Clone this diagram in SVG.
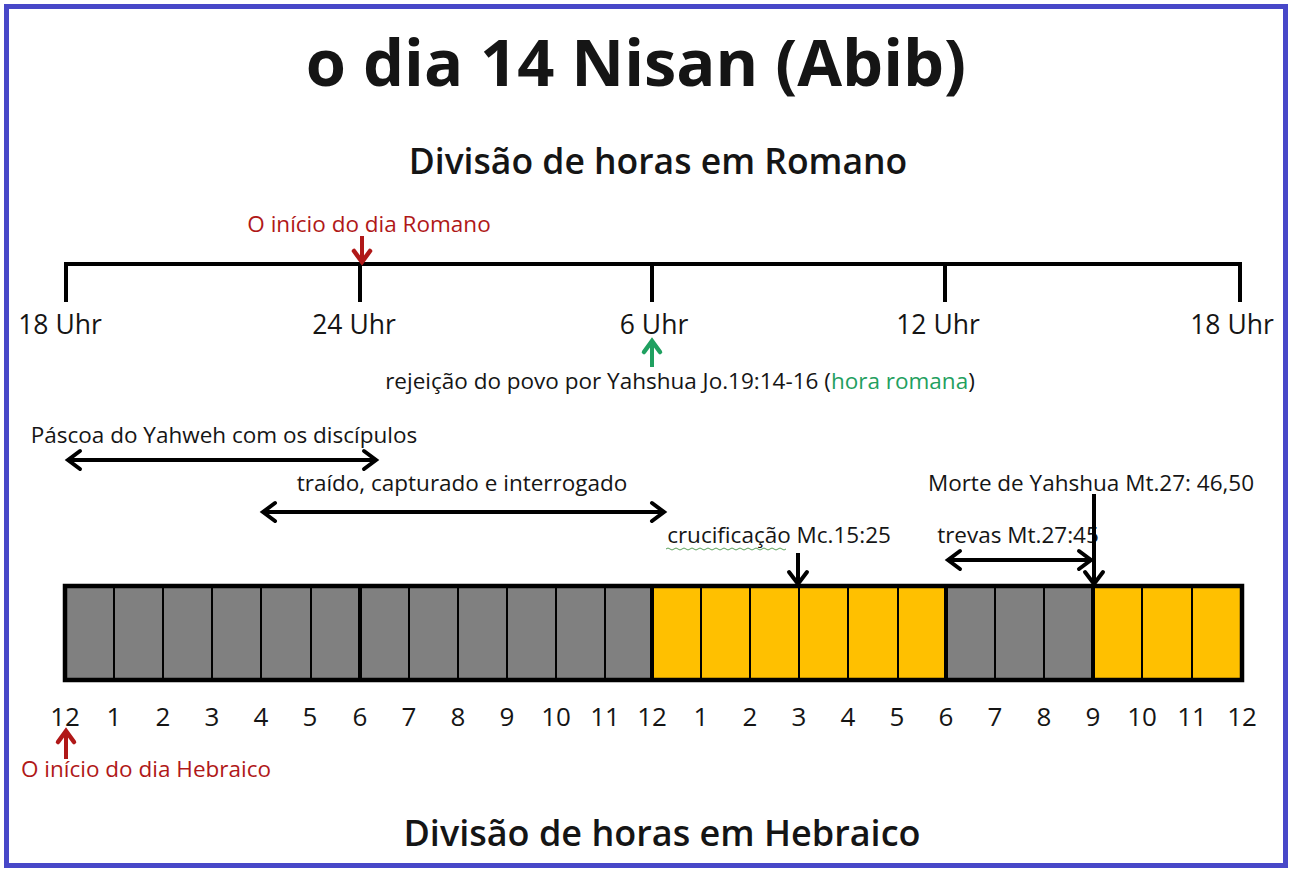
<svg xmlns="http://www.w3.org/2000/svg" width="1290" height="871" viewBox="0 0 1290 871">
<defs>
<style>
.t{font-family:"Open Sans","Liberation Sans",sans-serif;fill:#151515}
.lbl{font-size:26.5px}
.sm{font-size:22.5px}
.num{font-size:26px;text-anchor:middle}
.red{fill:#b01818}
.grn{fill:#1fa060}
.ln{stroke:#000;stroke-width:4;fill:none}
.g{fill:#808080}
.y{fill:#ffc000}
.cell{stroke:#000;stroke-width:2}
</style>
<marker id="ah" markerUnits="userSpaceOnUse" markerWidth="24" markerHeight="24" viewBox="0 0 24 24" refX="20" refY="12" orient="auto-start-reverse">
<path d="M8,3 L20,12 L8,21" fill="none" stroke="#000" stroke-width="4" stroke-linecap="round" stroke-linejoin="miter"/>
</marker>
<marker id="ahr" markerUnits="userSpaceOnUse" markerWidth="24" markerHeight="24" viewBox="0 0 24 24" refX="20" refY="12" orient="auto">
<path d="M9,4 L20,12 L9,20" fill="none" stroke="#b01818" stroke-width="4.5" stroke-linecap="round"/>
</marker>
<marker id="ahg" markerUnits="userSpaceOnUse" markerWidth="24" markerHeight="24" viewBox="0 0 24 24" refX="20" refY="12" orient="auto">
<path d="M9,4 L20,12 L9,20" fill="none" stroke="#1fa060" stroke-width="4.5" stroke-linecap="round"/>
</marker>
</defs>
<rect x="0" y="0" width="1290" height="871" fill="#fff"/>
<rect x="6.5" y="6.5" width="1279" height="859" fill="none" stroke="#4848c8" stroke-width="5"/>

<g id="title">
<text class="t" x="636" y="86" font-size="65" font-weight="bold" text-anchor="middle">o dia 14 Nisan (Abib)</text>
</g>
<g id="sub-romano">
<text class="t" x="658" y="174" font-size="35.5" font-weight="600" text-anchor="middle">Divisão de horas em Romano</text>
</g>
<g id="sub-hebraico">
<text class="t" x="662" y="846" font-size="36" font-weight="600" text-anchor="middle">Divisão de horas em Hebraico</text>
</g>

<g id="roman-timeline">
<path class="ln" d="M66,302 V264 H1240 V302 M360,264 V302 M652,264 V302 M945,264 V302"/>
<text class="t lbl" x="60" y="334" text-anchor="middle">18 Uhr</text>
<text class="t lbl" x="354" y="334" text-anchor="middle">24 Uhr</text>
<text class="t lbl" x="654" y="334" text-anchor="middle">6 Uhr</text>
<text class="t lbl" x="938" y="334" text-anchor="middle">12 Uhr</text>
<text class="t lbl" x="1232" y="334" text-anchor="middle">18 Uhr</text>
</g>

<g id="roman-start">
<text class="t sm red" x="369" y="232" text-anchor="middle">O início do dia Romano</text>
</g>

<g id="rejeicao">
<text class="t sm" x="680" y="389" text-anchor="middle">rejeição do povo por Yahshua Jo.19:14-16 (<tspan class="grn">hora romana</tspan>)</text>
</g>

<g id="pascoa">
<text class="t sm" x="224" y="443" text-anchor="middle">Páscoa do Yahweh com os discípulos</text>
</g>
<g id="traido">
<text class="t sm" x="462" y="491" text-anchor="middle">traído, capturado  e interrogado</text>
</g>
<g id="crucificacao">
<text class="t sm" x="779" y="543" text-anchor="middle">crucificação Mc.15:25</text>
<path d="M666,549 q2,-2 4,0 t4,0 t4,0 t4,0 t4,0 t4,0 t4,0 t4,0 t4,0 t4,0 t4,0 t4,0 t4,0 t4,0 t4,0 t4,0 t4,0 t4,0 t4,0 t4,0 t4,0 t4,0 t4,0 t4,0 t4,0 t4,0 t4,0 t4,0 t4,0 t4,0" fill="none" stroke="#5aa05a" stroke-width="1"/>
</g>
<g id="morte">
<text class="t sm" x="1091" y="491" text-anchor="middle">Morte de Yahshua Mt.27: 46,50</text>
</g>
<g id="trevas">
<text class="t sm" x="1018" y="543" text-anchor="middle">trevas Mt.27:45</text>
</g>

<g id="hour-bar">
<g class="cell">
<rect class="g" x="65" y="586" width="49" height="94"/>
<rect class="g" x="114" y="586" width="49" height="94"/>
<rect class="g" x="163" y="586" width="49" height="94"/>
<rect class="g" x="212" y="586" width="49" height="94"/>
<rect class="g" x="261" y="586" width="50" height="94"/>
<rect class="g" x="311" y="586" width="49" height="94"/>
<rect class="g" x="360" y="586" width="49" height="94"/>
<rect class="g" x="409" y="586" width="49" height="94"/>
<rect class="g" x="458" y="586" width="49" height="94"/>
<rect class="g" x="507" y="586" width="49" height="94"/>
<rect class="g" x="556" y="586" width="49" height="94"/>
<rect class="g" x="605" y="586" width="47" height="94"/>
<rect class="y" x="652" y="586" width="49" height="94"/>
<rect class="y" x="701" y="586" width="49" height="94"/>
<rect class="y" x="750" y="586" width="49" height="94"/>
<rect class="y" x="799" y="586" width="49" height="94"/>
<rect class="y" x="848" y="586" width="50" height="94"/>
<rect class="y" x="898" y="586" width="48" height="94"/>
<rect class="g" x="946" y="586" width="49" height="94"/>
<rect class="g" x="995" y="586" width="49" height="94"/>
<rect class="g" x="1044" y="586" width="49" height="94"/>
<rect class="y" x="1093" y="586" width="49" height="94"/>
<rect class="y" x="1142" y="586" width="50" height="94"/>
<rect class="y" x="1192" y="586" width="50" height="94"/>
</g>
<rect x="65" y="586" width="1177" height="94" fill="none" stroke="#000" stroke-width="4.5"/>
<path d="M360,586 V680 M652,586 V680 M946,586 V680 M1093,586 V680" stroke="#000" stroke-width="4"/>
</g>

<g id="hebrew-numbers" class="t">
<text class="num" x="65" y="726">12</text>
<text class="num" x="114" y="726">1</text>
<text class="num" x="163" y="726">2</text>
<text class="num" x="212" y="726">3</text>
<text class="num" x="261" y="726">4</text>
<text class="num" x="310" y="726">5</text>
<text class="num" x="360" y="726">6</text>
<text class="num" x="409" y="726">7</text>
<text class="num" x="458" y="726">8</text>
<text class="num" x="507" y="726">9</text>
<text class="num" x="556" y="726">10</text>
<text class="num" x="605" y="726">11</text>
<text class="num" x="652" y="726">12</text>
<text class="num" x="701" y="726">1</text>
<text class="num" x="750" y="726">2</text>
<text class="num" x="799" y="726">3</text>
<text class="num" x="848" y="726">4</text>
<text class="num" x="897" y="726">5</text>
<text class="num" x="946" y="726">6</text>
<text class="num" x="995" y="726">7</text>
<text class="num" x="1044" y="726">8</text>
<text class="num" x="1093" y="726">9</text>
<text class="num" x="1142" y="726">10</text>
<text class="num" x="1192" y="726">11</text>
<text class="num" x="1242" y="726">12</text>
</g>

<g id="hebrew-start">
<text class="t sm red" x="146" y="777" text-anchor="middle">O início do dia Hebraico</text>
</g>

<g id="connectors">
<line x1="362" y1="236" x2="362" y2="262" stroke="#b01818" stroke-width="4" marker-end="url(#ahr)"/>
<line x1="652" y1="367" x2="652" y2="341" stroke="#1fa060" stroke-width="4" marker-end="url(#ahg)"/>
<line x1="66" y1="759" x2="66" y2="731" stroke="#b01818" stroke-width="4" marker-end="url(#ahr)"/>
<line class="ln" x1="68" y1="460" x2="376" y2="460" marker-start="url(#ah)" marker-end="url(#ah)"/>
<line class="ln" x1="263" y1="512" x2="664" y2="512" marker-start="url(#ah)" marker-end="url(#ah)"/>
<line class="ln" x1="798" y1="553" x2="798" y2="584" marker-end="url(#ah)"/>
<line class="ln" x1="948" y1="560" x2="1091" y2="560" marker-start="url(#ah)" marker-end="url(#ah)"/>
<line class="ln" x1="1094" y1="494" x2="1094" y2="584" marker-end="url(#ah)"/>
</g>
</svg>
